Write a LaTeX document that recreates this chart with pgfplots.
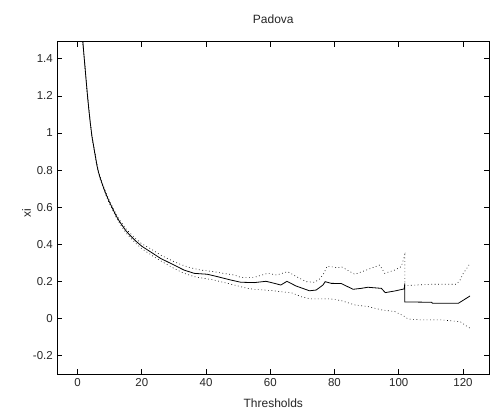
\documentclass[border=0pt]{standalone}
\usepackage{fontspec}
\setmainfont{Liberation Sans}
\usepackage{pgfplots}
\pgfplotsset{compat=1.18}
\begin{document}
\begin{tikzpicture}
\fill[white] (-57.3pt,-39.7pt) rectangle (439.7pt,374.3pt);
\begin{axis}[
  name=ax, at={(0,0)}, anchor=south west,
  scale only axis, width=432pt, height=332.6pt,
  xmin=-6.3, xmax=128.2, ymin=-0.3, ymax=1.492,
  xtick={0,20,40,60,80,100,120},
  ytick={-0.2,0,0.2,0.4,0.6,0.8,1,1.2,1.4},
  tick align=inside, major tick length=5pt,
  tick style={black, line width=0.6pt},
  axis line style={black, line width=0.7pt},
  /pgf/number format/assume math mode=true,
  /pgf/number format/.cd, fixed, precision=1, /pgfplots/.cd,
  tick label style={font=\fontsize{11.5}{13}\selectfont, text=black!85},
  xticklabel style={yshift=-1pt},
  yticklabel style={xshift=-1pt},
  title={Padova},
  title style={at={(axis description cs:0.5,1.050)}, anchor=center, font=\fontsize{12}{14}\selectfont, text=black!85},
  xlabel={Thresholds},
  xlabel style={at={(axis description cs:0.5,-0.086)}, anchor=center, font=\fontsize{12}{14}\selectfont, text=black!85},
  ylabel={xi},
  ylabel style={at={(axis description cs:-0.071,0.485)}, anchor=center, font=\fontsize{12}{14}\selectfont, text=black!85},
  clip=true,
]
% upper bound
\addplot[black, line width=0.6pt, dash pattern=on 0.8pt off 2.6pt] coordinates {
(1.5,1.524) (2,1.424) (2.5,1.325) (3,1.225) (3.5,1.135) (4,1.055) (4.5,0.985) (5,0.935)
(5.5,0.886) (6,0.836) (6.5,0.796) (7,0.766) (8,0.717) (9,0.672) (10,0.633) (11,0.598)
(12,0.564) (13,0.534) (14,0.51) (15,0.486) (16,0.466) (17,0.45) (18,0.432) (19,0.418)
(20,0.403) (22.7,0.377) (25.8,0.343) (30,0.307)
(32.1,0.292) (35,0.275) (38.3,0.262) (42.5,0.253) (45,0.245) (48.8,0.235) (50.8,0.222)
(55,0.222) (59.2,0.244) (62,0.235) (65.4,0.253) (68.6,0.222) (71.2,0.199) (73.8,0.196)
(75.5,0.215) (76.7,0.244) (77.7,0.283) (81.1,0.274) (82.1,0.28) (86.3,0.239) (89.4,0.258)
(94.1,0.289) (95.6,0.244) (98.8,0.262) (100.8,0.28) (101.9,0.345) (101.9,0.178)
(110.2,0.185) (118,0.185) (119.1,0.208) (120.1,0.244) (121.2,0.271) (122.2,0.298)
};
% lower bound
\addplot[black, line width=0.6pt, dash pattern=on 0.8pt off 2.6pt] coordinates {
(1.5,1.516) (2,1.416) (2.5,1.315) (3,1.215) (3.5,1.125) (4,1.045) (4.5,0.975) (5,0.925)
(5.5,0.874) (6,0.824) (6.5,0.784) (7,0.754) (8,0.703) (9,0.658) (10,0.617) (11,0.582)
(12,0.546) (13,0.516) (14,0.49) (15,0.464) (16,0.444) (17,0.426) (18,0.408) (19,0.392)
(20,0.377) (23.8,0.333) (27,0.30) (30,0.271)
(33,0.245) (36.3,0.226) (39,0.218) (42.5,0.208) (45.5,0.195) (48.8,0.181) (50.8,0.172)
(52.9,0.163) (55,0.158) (58.3,0.154) (61,0.15) (63.3,0.145) (66.5,0.14) (69.6,0.118)
(72.7,0.106) (76,0.106) (79,0.106) (82.1,0.097) (86.3,0.074) (90.4,0.065) (94.6,0.047)
(98.8,0.038) (101.9,0.011) (102.9,-0.002) (107.1,-0.007) (113.3,-0.007) (116.4,-0.012)
(119.1,-0.016) (120.6,-0.034) (122.2,-0.052)
};
% estimate
\addplot[black, line width=0.8pt] coordinates {
(1.0,1.62) (1.5,1.52) (2,1.42) (2.5,1.32) (3,1.22) (3.5,1.13) (4,1.05) (4.5,0.98)
(5,0.93) (5.5,0.88) (6,0.83) (6.5,0.79) (7,0.76) (8,0.71) (9,0.665) (10,0.625)
(11,0.59) (12,0.555) (13,0.525) (14,0.50) (15,0.475) (16,0.455) (17,0.438) (18,0.42)
(19,0.405) (20,0.39) (22.7,0.36) (25.8,0.325)
(30,0.289) (33.1,0.262) (36.3,0.244) (40.4,0.239) (43.6,0.226) (47.7,0.208) (50.8,0.196)
(55,0.194) (58.7,0.201) (61.3,0.19) (63.3,0.181) (65.2,0.201) (68,0.176) (72.2,0.15)
(74.3,0.154) (76.4,0.181) (77.1,0.199) (79,0.19) (82.1,0.189) (85.8,0.158) (88.3,0.163)
(90.4,0.169) (94.6,0.163) (95.8,0.14) (98.8,0.149) (101.7,0.16) (101.9,0.19) (101.9,0.09)
(110.2,0.088) (110.5,0.083) (118.6,0.083) (122.2,0.122)
};
\end{axis}
\end{tikzpicture}
\end{document}
